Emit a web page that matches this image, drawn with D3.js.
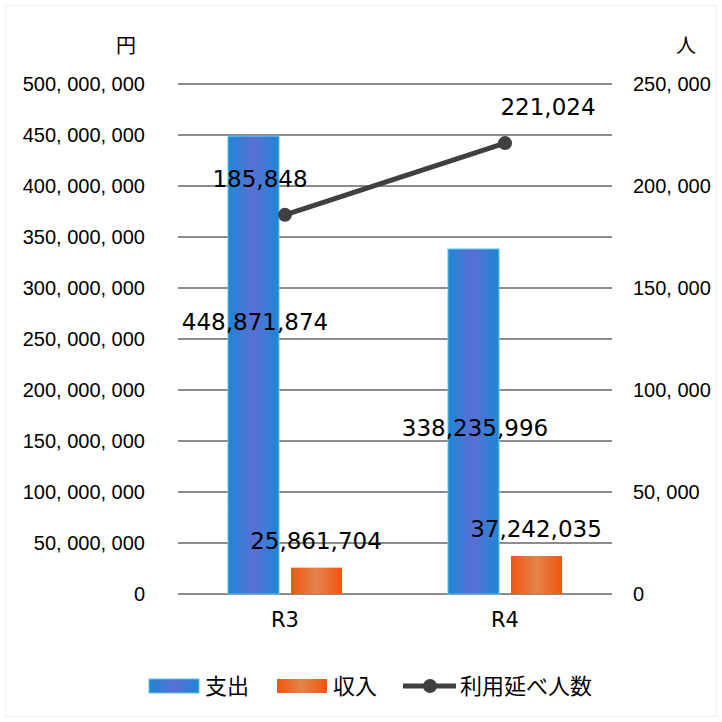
<!DOCTYPE html>
<html>
<head>
<meta charset="utf-8">
<script src="https://cdn.jsdelivr.net/npm/d3@7"></script>
<style>
  body { margin: 0; background: #fff; }
  text { font-family: "DejaVu Sans", "Noto Sans CJK JP", sans-serif; fill: #000; }
</style>
</head>
<body>
<svg id="chart" width="722" height="722"></svg>
<script>
var categories = ['R3', 'R4'];
var spending = [448871874, 338235996];
var income = [25861704, 37242035];
var users = [185848, 221024];
var leftTicks = [0, 50000000, 100000000, 150000000, 200000000, 250000000, 300000000, 350000000, 400000000, 450000000, 500000000];
var rightTicks = [0, 50000, 100000, 150000, 200000, 250000];
var legendNames = ['支出', '収入', '利用延べ人数'];

var svg = d3.select('#chart');

svg.append('rect').attr('x', 5.5).attr('y', 5.5).attr('width', 711).attr('height', 711)
  .attr('fill', 'none').attr('stroke', '#eee');

var defs = svg.append('defs');
var gBlue = defs.append('linearGradient').attr('id', 'gblue');
gBlue.append('stop').attr('offset', '0%').attr('stop-color', '#1f86d6');
gBlue.append('stop').attr('offset', '50%').attr('stop-color', '#5a6fd4');
gBlue.append('stop').attr('offset', '100%').attr('stop-color', '#1f86d6');
var gOrange = defs.append('linearGradient').attr('id', 'gorange');
gOrange.append('stop').attr('offset', '0%').attr('stop-color', '#f25510');
gOrange.append('stop').attr('offset', '50%').attr('stop-color', '#e2844a');
gOrange.append('stop').attr('offset', '100%').attr('stop-color', '#f25510');

var plotL = 178, plotR = 612, plotT = 84, plotB = 594;

var x = d3.scaleBand().domain(categories).range([175, 615]);
var yL = d3.scaleLinear().domain([0, 500000000]).range([plotB, plotT]);
var yR = d3.scaleLinear().domain([0, 250000]).range([plotB, plotT]);

var fmtTick = d3.format(',');
var tickFont = '"Liberation Sans", Arial, sans-serif';

// gridlines
svg.append('g').selectAll('line').data(leftTicks).join('line')
  .attr('x1', plotL).attr('x2', plotR)
  .attr('y1', d => yL(d)).attr('y2', d => yL(d))
  .attr('stroke', '#8c8c8c').attr('stroke-width', 2);

// left axis
var axL = svg.append('g').attr('transform', `translate(${plotL},0)`)
  .call(d3.axisLeft(yL).tickValues(leftTicks).tickFormat(d => fmtTick(d).replace(/,/g, ', ')).tickSize(0).tickPadding(33));
axL.select('.domain').remove();
axL.selectAll('text').attr('font-size', 20).style('font-family', tickFont);

// right axis
var axR = svg.append('g').attr('transform', `translate(${plotR},0)`)
  .call(d3.axisRight(yR).tickValues(rightTicks).tickFormat(d => fmtTick(d).replace(/,/g, ', ')).tickSize(0).tickPadding(21));
axR.select('.domain').remove();
axR.selectAll('text').attr('font-size', 20).style('font-family', tickFont);

svg.append('text').attr('x', 126).attr('y', 53).attr('text-anchor', 'middle').attr('font-size', 20).text('円');
svg.append('text').attr('x', 686).attr('y', 53).attr('text-anchor', 'middle').attr('font-size', 20).text('人');

// category axis
var axX = svg.append('g').attr('transform', `translate(0,${plotB})`)
  .call(d3.axisBottom(x).tickSize(0).tickPadding(18));
axX.select('.domain').remove();
axX.selectAll('text').attr('font-size', 21).style('font-family', '"DejaVu Sans", sans-serif');

var barW = 51, gap = 12;

svg.append('g').selectAll('rect').data(spending).join('rect')
  .attr('x', (d, i) => x(categories[i]) + x.bandwidth() / 2 - gap / 2 - barW)
  .attr('y', d => yL(d))
  .attr('width', barW)
  .attr('height', d => plotB - yL(d))
  .attr('fill', 'url(#gblue)')
  .attr('stroke', '#5cc4e8').attr('stroke-width', 1);

svg.append('g').selectAll('rect').data(income).join('rect')
  .attr('x', (d, i) => x(categories[i]) + x.bandwidth() / 2 + gap / 2)
  .attr('y', d => yL(d))
  .attr('width', barW)
  .attr('height', d => plotB - yL(d))
  .attr('fill', 'url(#gorange)');

// line
var line = d3.line().x((d, i) => x(categories[i]) + x.bandwidth() / 2).y(d => yR(d));
svg.append('path').datum(users).attr('d', line)
  .attr('fill', 'none').attr('stroke', '#404040').attr('stroke-width', 5);
svg.append('g').selectAll('circle').data(users).join('circle')
  .attr('cx', (d, i) => x(categories[i]) + x.bandwidth() / 2)
  .attr('cy', d => yR(d)).attr('r', 7).attr('fill', '#404040');

// data labels
var fmt = d3.format(',');
svg.append('g').selectAll('text').data(spending).join('text')
  .attr('x', (d, i) => x(categories[i]) + x.bandwidth() / 2 - 30)
  .attr('y', (d, i) => yL(d / 2) + (i === 0 ? -35 : 15))
  .attr('text-anchor', 'middle').attr('font-size', 23)
  .text(d => fmt(d));
svg.append('g').selectAll('text').data(income).join('text')
  .attr('x', (d, i) => x(categories[i]) + x.bandwidth() / 2 + 31)
  .attr('y', d => yL(d) - 19)
  .attr('text-anchor', 'middle').attr('font-size', 23)
  .text(d => fmt(d));
svg.append('g').selectAll('text').data(users).join('text')
  .attr('x', (d, i) => x(categories[i]) + x.bandwidth() / 2 - 25 + i * 68)
  .attr('y', d => yR(d) - 28)
  .attr('text-anchor', 'middle').attr('font-size', 23)
  .text(d => fmt(d));

// legend
var lg = svg.append('g').attr('transform', 'translate(0,686)');
lg.append('rect').attr('x', 149).attr('y', -7).attr('width', 50).attr('height', 14).attr('fill', 'url(#gblue)')
  .attr('stroke', '#5cc4e8').attr('stroke-width', 1);
lg.append('text').attr('x', 205).attr('y', 8).attr('font-size', 22).text(legendNames[0]);
lg.append('rect').attr('x', 277).attr('y', -7).attr('width', 50).attr('height', 14).attr('fill', 'url(#gorange)');
lg.append('text').attr('x', 333).attr('y', 8).attr('font-size', 22).text(legendNames[1]);
lg.append('line').attr('x1', 403).attr('x2', 456).attr('y1', 0).attr('y2', 0).attr('stroke', '#404040').attr('stroke-width', 5);
lg.append('circle').attr('cx', 430).attr('cy', 0).attr('r', 7).attr('fill', '#404040');
lg.append('text').attr('x', 460).attr('y', 8).attr('font-size', 22).text(legendNames[2]);
</script>
</body>
</html>
